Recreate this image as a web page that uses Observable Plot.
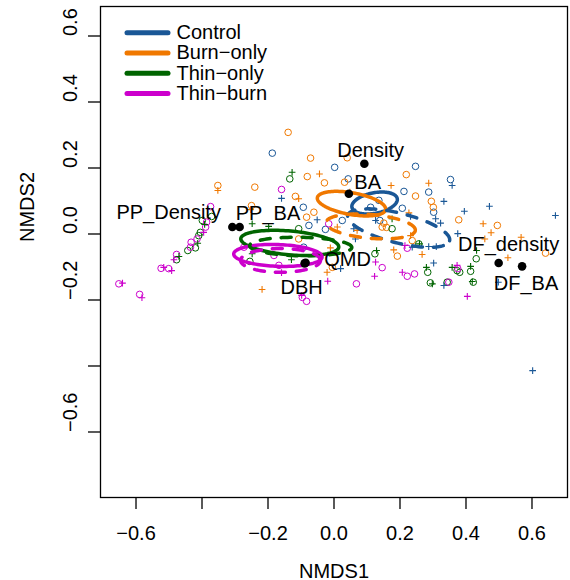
<!DOCTYPE html>
<html><head><meta charset="utf-8">
<script src="https://cdn.jsdelivr.net/npm/d3@7"></script>
<script src="https://cdn.jsdelivr.net/npm/@observablehq/plot@0.6"></script>
<style>body{margin:0;background:#fff;}</style>
</head><body><div id="chart"></div>
<script>
// ---- categories & colours
const treatments = ["Control", "Burn\u2212only", "Thin\u2212only", "Thin\u2212burn"];
const trtColors = ["#1a5796", "#f07800", "#006400", "#cc00cc"];

// ---- site scores (NMDS1, NMDS2): "o" and "+" symbols per treatment
const controlO = [[-0.187,0.245],[0.002,0.202],[0.043,0.167],[-0.093,0.081],[-0.076,0.026],[-0.026,0.014],[-0.092,-0.040],[0.247,0.205],[0.353,0.165],[0.212,0.129],[0.287,0.127],[0.136,0.102],[0.111,0.081],[0.207,0.078],[0.302,0.066],[0.139,0.041],[0.025,0.041]];
const controlP = [[-0.159,0.108],[-0.051,0.043],[0.358,0.147],[0.333,0.099],[0.232,0.053],[0.308,0.046],[0.323,0.033],[0.126,0.041],[0.060,0.016],[0.065,-0.015],[0.020,-0.105],[0.237,-0.040],[0.287,-0.038],[0.310,-0.038],[0.302,-0.088],[0.333,-0.156],[0.395,0.069],[0.471,0.084],[0.671,0.056],[0.375,0.001],[0.498,-0.146],[0.602,-0.414]];
const burnO = [[-0.352,0.147],[-0.240,0.142],[-0.250,0.086],[-0.139,0.308],[-0.071,0.230],[-0.081,0.174],[-0.029,0.155],[0.040,0.231],[0.032,0.157],[-0.117,0.114],[-0.083,0.051],[-0.061,0.066],[-0.107,-0.015],[-0.005,-0.101],[0.219,0.180],[0.247,0.115],[0.295,0.099],[0.301,0.081],[0.151,0.033],[0.146,0.021],[0.159,0.020],[0.237,-0.020],[0.192,-0.067],[0.378,0.043],[0.495,0.026],[0.641,-0.058]];
const burnP = [[-0.352,0.132],[-0.253,0.074],[-0.044,0.182],[-0.107,0.107],[0.010,0.021],[-0.011,-0.042],[-0.021,-0.116],[-0.218,-0.168],[0.048,0.127],[0.173,0.147],[0.287,0.154],[0.070,0.011],[0.227,0.064],[0.232,-0.005],[0.267,-0.062],[0.181,-0.048],[0.452,0.031],[0.476,0.004],[0.457,-0.015],[0.567,-0.010],[0.527,-0.072]];
const thinO = [[-0.399,0.041],[-0.371,0.053],[-0.405,0.005],[-0.410,-0.005],[-0.420,-0.042],[-0.443,-0.050],[-0.477,-0.078],[-0.134,0.167],[-0.255,-0.083],[-0.107,0.016],[0.176,0.016],[0.257,-0.030],[0.124,-0.060],[0.284,-0.116],[0.292,-0.148],[0.343,-0.146],[0.373,-0.111],[0.381,-0.116],[0.414,-0.113],[0.422,-0.146],[0.431,-0.075]];
const thinP = [[-0.413,-0.028],[-0.470,-0.068],[-0.392,0.029],[-0.127,0.187],[-0.248,0.031],[-0.198,0.023],[-0.248,-0.060],[-0.129,-0.078],[0.176,0.046],[0.259,-0.030],[0.129,-0.050],[0.280,-0.101],[0.298,-0.151],[0.358,-0.101],[0.414,-0.098],[0.432,-0.050],[0.419,-0.144]];
const thinBurnO = [[-0.652,-0.151],[-0.589,-0.183],[-0.524,-0.104],[-0.501,-0.105],[-0.477,-0.062],[-0.435,-0.040],[-0.433,-0.025],[-0.415,-0.015],[-0.389,0.021],[-0.386,0.036],[-0.374,0.083],[-0.159,0.135],[-0.016,0.031],[-0.182,-0.065],[-0.167,-0.095],[-0.096,-0.192],[-0.083,-0.204],[0.068,-0.151],[0.146,-0.102],[0.222,-0.043],[0.222,-0.128],[0.244,-0.121],[0.348,-0.146],[0.375,-0.105],[-0.273,-0.040]];
const thinBurnP = [[-0.641,-0.149],[-0.582,-0.193],[-0.516,-0.101],[-0.492,-0.111],[-0.485,-0.078],[-0.395,0.005],[-0.159,-0.117],[-0.098,-0.186],[-0.019,-0.143],[0.126,-0.085],[0.123,-0.128],[0.207,-0.116],[0.215,-0.035],[0.373,-0.095],[0.404,-0.189]];

// ---- ellipses: treatment index, centre, semi-axes, angle (deg), dashed?
const ellTrt    = [0, 0, 1, 1, 2, 2, 3, 3];
const ellDashed = [false, true, false, true, false, true, false, true];
const ellCx     = [0.123, 0.196, 0.053, 0.111, -0.134, -0.101, -0.170, -0.162];
const ellCy     = [0.094, 0.018, 0.092, 0.023, -0.027, -0.038, -0.065, -0.080];
const ellA      = [0.070, 0.159, 0.105, 0.136, 0.149, 0.155, 0.134, 0.121];
const ellB      = [0.031, 0.045, 0.033, 0.036, 0.036, 0.028, 0.033, 0.036];
const ellAngle  = [11, -14, -10, -5, -5, -1, -2, 0];

// ---- environmental vectors (fitted endpoints) and label positions
const vecNames = ["PP_Density", "PP_BA", "Density", "BA", "QMD", "DBH", "DF_density", "DF_BA"];
const vecX     = [-0.308, -0.286, 0.092, 0.045, -0.086, -0.089, 0.499, 0.570];
const vecY     = [0.021, 0.021, 0.213, 0.122, -0.087, -0.089, -0.088, -0.098];
const labX     = [-0.501, -0.200, 0.111, 0.102, 0.041, -0.098, 0.529, 0.582];
const labY     = [0.065, 0.062, 0.253, 0.156, -0.079, -0.162, -0.031, -0.151];

// ---- axes
const xTickValues = [-0.6, -0.4, -0.2, 0, 0.2, 0.4, 0.6];
const xTickLabels = ["\u22120.6", "", "\u22120.2", "0.0", "0.2", "0.4", "0.6"];
const yTickValues = [0.6, 0.4, 0.2, 0, -0.2, -0.4, -0.6];
const yTickLabels = ["0.6", "0.4", "0.2", "0.0", "\u22120.2", "", "\u22120.6"];
const xTitle = "NMDS1", yTitle = "NMDS2";

// ---------- build tables
const W = 570, H = 580;
const mL = 100, mR = 3, mT = 6, mB = 83;
const xDomain = [-0.7076, 0.7076];
const yDomain = [-0.7985, 0.6894];
const fx = p => xDomain[0] + (p - mL) / (W - mL - mR) * (xDomain[1] - xDomain[0]);
const fy = p => yDomain[1] - (p - mT) / (H - mT - mB) * (yDomain[1] - yDomain[0]);

const toRows = (arr, t) => arr.map(([x, y]) => ({x, y, trt: treatments[t]}));
const circles = [...toRows(controlO,0), ...toRows(burnO,1), ...toRows(thinO,2), ...toRows(thinBurnO,3)];
const pluses  = [...toRows(controlP,0), ...toRows(burnP,1), ...toRows(thinP,2), ...toRows(thinBurnP,3)];

const ellPts = [];
ellCx.forEach((cx, k) => {
  const th = ellAngle[k] * Math.PI / 180;
  for (let s = 0; s <= 120; s++) {
    const t = s / 120 * 2 * Math.PI;
    const u = ellA[k] * Math.cos(t), v = ellB[k] * Math.sin(t);
    ellPts.push({id: k, dashed: ellDashed[k], trt: treatments[ellTrt[k]],
      x: cx + u * Math.cos(th) - v * Math.sin(th),
      y: ellCy[k] + u * Math.sin(th) + v * Math.cos(th)});
  }
});
const vecs = vecNames.map((n, i) => ({n, x: vecX[i], y: vecY[i], lx: labX[i], ly: labY[i]}));

// legend layout (pixel offsets inside the frame converted to data space)
const legRows = treatments.map((t, i) => ({t, y: fy(32.3 + i * 20.2)}));
const legX1 = fx(127), legX2 = fx(168), legTx = fx(176);

const xLab = new Map(xTickValues.map((v, i) => [v, xTickLabels[i]]));
const yLab = new Map(yTickValues.map((v, i) => [v, yTickLabels[i]]));

const chart = Plot.plot({
  width: W, height: H,
  marginLeft: mL, marginRight: mR, marginTop: mT, marginBottom: mB,
  style: {fontFamily: "'Liberation Sans', Arial, sans-serif", fontSize: "20px", color: "black", background: "white", overflow: "visible"},
  x: {domain: xDomain, axis: null, label: null},
  y: {domain: yDomain, axis: null, label: null},
  color: {domain: treatments, range: trtColors},
  marks: [
    Plot.dot(circles, {x: "x", y: "y", stroke: "trt", r: 3.3, strokeWidth: 1}),
    Plot.dot(pluses, {x: "x", y: "y", stroke: "trt", symbol: "plus", r: 2.3, strokeWidth: 1.1}),
    Plot.line(ellPts.filter(d => !d.dashed), {x: "x", y: "y", z: "id", stroke: "trt", strokeWidth: 3.5, curve: "linear"}),
    Plot.line(ellPts.filter(d => d.dashed), {x: "x", y: "y", z: "id", stroke: "trt", strokeWidth: 3.5, strokeDasharray: "10,11", strokeLinecap: "round"}),
    Plot.dot(vecs, {x: "x", y: "y", fill: "black", r: 4.3}),
    Plot.text(vecs, {x: "lx", y: "ly", text: "n", fontSize: 20, fill: "black"}),
    // legend
    Plot.ruleY(legRows, {y: "y", x1: legX1, x2: legX2, stroke: "t", strokeWidth: 5, strokeLinecap: "round"}),
    Plot.text(legRows, {x: legTx, y: "y", text: "t", textAnchor: "start", fontSize: 20, fill: "black"}),
    // axes
    Plot.frame({stroke: "black", strokeWidth: 1.3}),
    Plot.axisX({ticks: xTickValues, tickFormat: d => xLab.get(d), tickSize: 12, tickPadding: 16, fontSize: 20, label: null, strokeWidth: 1.3}),
    Plot.axisY({ticks: yTickValues, tickFormat: () => "", tickSize: 12, label: null, strokeWidth: 1.3}),
    Plot.text(yTickValues, {y: d => d, text: d => yLab.get(d), frameAnchor: "left", dx: -24, rotate: -90, lineAnchor: "bottom", fontSize: 20, fill: "black"}),
    Plot.text([xTitle], {frameAnchor: "bottom", dy: 80, lineAnchor: "bottom", fontSize: 20, fill: "black"}),
    Plot.text([yTitle], {frameAnchor: "left", dx: -67, dy: -10, rotate: -90, lineAnchor: "bottom", fontSize: 20, fill: "black"})
  ]
});
document.getElementById("chart").appendChild(chart);
</script>
</body></html>
